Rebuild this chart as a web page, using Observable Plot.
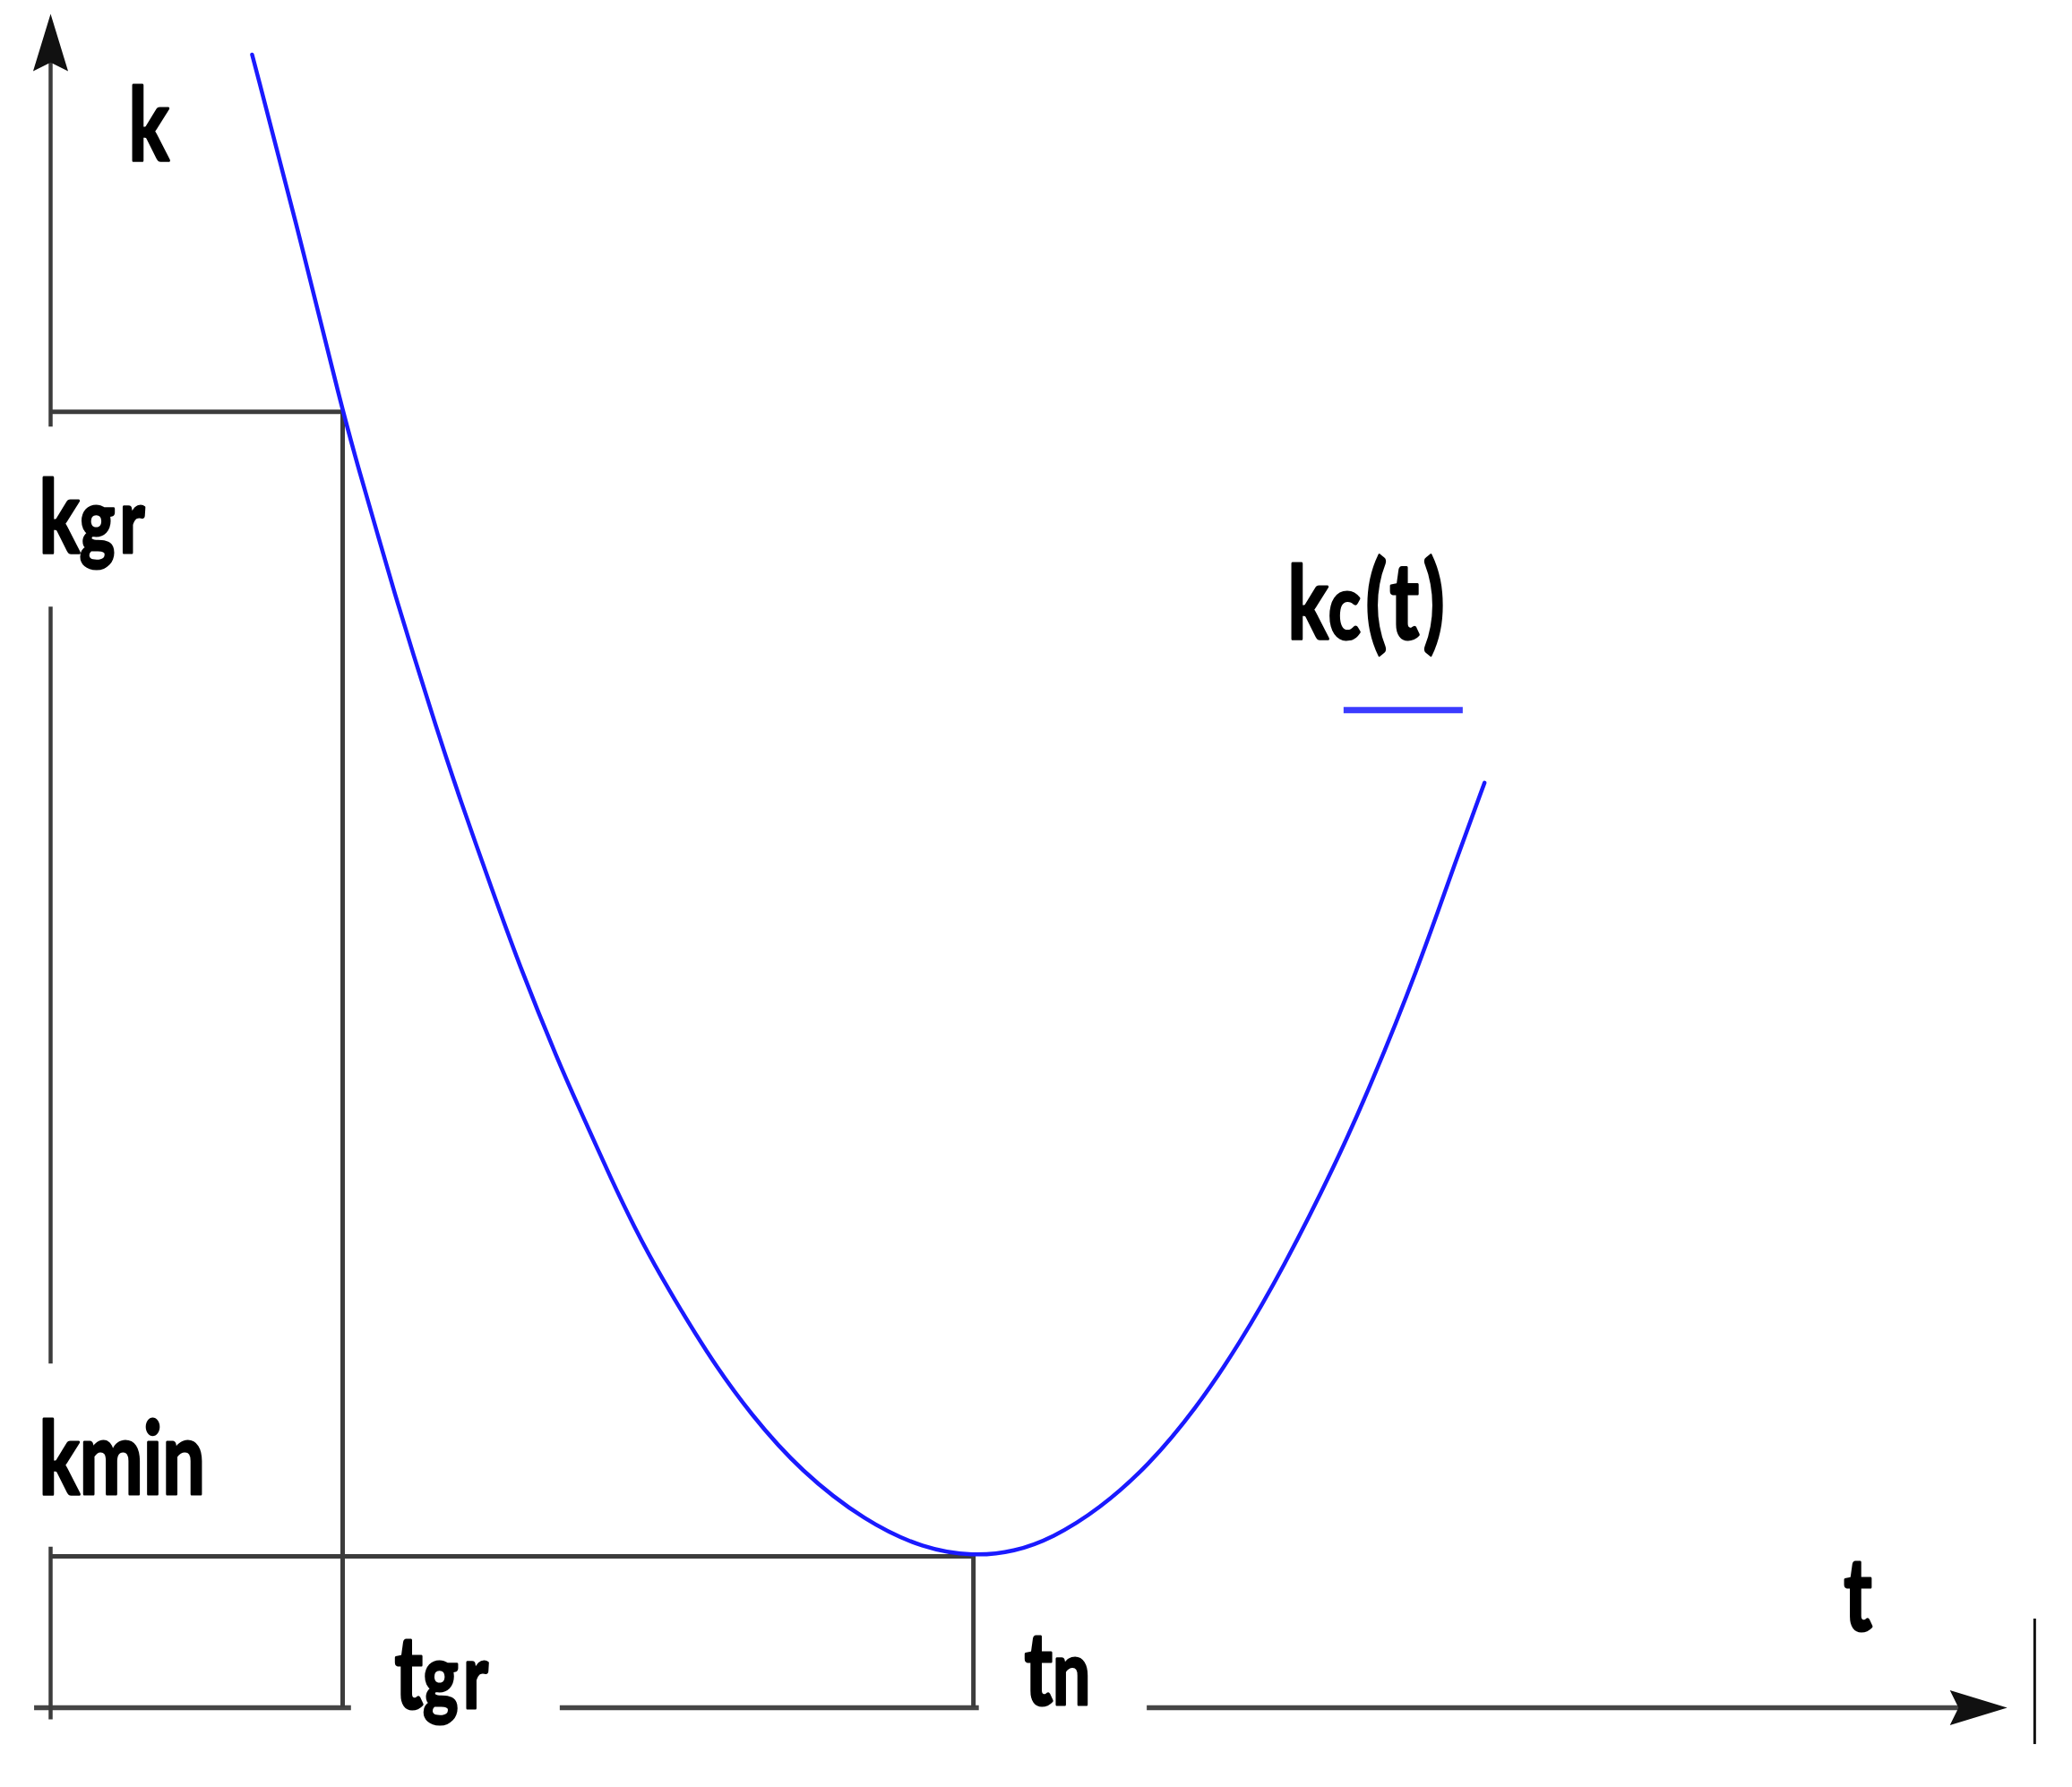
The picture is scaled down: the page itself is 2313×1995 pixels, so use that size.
<!DOCTYPE html>
<html><head><meta charset="utf-8">
<script src="https://cdn.jsdelivr.net/npm/d3@7"></script>
<script src="https://cdn.jsdelivr.net/npm/@observablehq/plot@0.6"></script>
<style>html,body{margin:0;padding:0;background:#fff;} svg{display:block}</style>
</head><body><div id="chart"></div>
<script>
// Curve kc(t) (t in units of tgr, k in units of kmin)
const curveT = [0.69,0.84,1.00,1.06,1.12,1.18,1.24,1.32,1.40,1.52,1.60,1.74,1.82,1.92,2.00,2.08,2.25,2.40,2.57,2.79,2.99,3.16,3.30,3.43,3.59,3.76,3.92,4.07,4.22,4.40,4.52,4.68,4.82,4.91];
const curveK = [10.92,9.82,8.56,8.15,7.75,7.35,6.97,6.48,6.01,5.36,4.93,4.26,3.92,3.49,3.17,2.88,2.33,1.93,1.56,1.23,1.05,1.00,1.03,1.12,1.31,1.60,1.97,2.40,2.90,3.59,4.11,4.87,5.64,6.11];

// Reference levels
const tGr = 1.0, tN = 3.16, kGr = 8.56, kMin = 1.0;

// Axis pieces (gaps where labels sit)
const tAxisFrom = [-0.055, 1.745, 3.755];
const tAxisTo   = [1.03, 3.18, 6.62];
const kAxisFrom = [8.46, 2.27, -0.08];
const kAxisTo   = [10.9, 7.27, 1.06];
const tArrowTip = 6.70, kArrowTip = 11.19;

// Right-hand marker
const tMarker = 6.794, kMarkerFrom = -0.243, kMarkerTo = 0.586;

// Legend swatch for kc(t)
const legendFrom = 4.429, legendTo = 4.837, legendK = 6.59;

// Labels
const labelText = ["k", "kgr", "kmin", "tgr", "tn", "t", "kc(t)"];
const labelBase = ["k", "k", "kmin", "t", "t", "t", "k"];
const labelSub  = ["", "gr", "", "gr", "n", "", "c"];
const labelTail = ["", "", "", "", "", "", "(t)"];
const labelT = [0.267, -0.04, -0.04, 1.178, 3.334, 6.14, 4.236];
const labelK = [10.22, 7.63, 1.414, 0.0, 0.02, 0.51, 7.06];

const curve = curveT.map((t, i) => ({t, k: curveK[i]}));
const labels = labelText.map((s, i) => ({s, t: labelT[i], k: labelK[i]}));
const tSegs = tAxisFrom.map((a, i) => ({a, b: tAxisTo[i]}));
const kSegs = kAxisFrom.map((a, i) => ({a, b: kAxisTo[i]}));

const arrowSymbol = {
  draw(ctx, size) {
    const s = Math.sqrt(size);
    const L = s * 1.9, W = s * 0.58;
    ctx.moveTo(0, 0);
    ctx.lineTo(W, L);
    ctx.lineTo(0, L * 0.85);
    ctx.lineTo(-W, L);
    ctx.closePath();
  }
};

const gray = "#3c3c3c";
const chart = Plot.plot({
  width: 2313,
  height: 1995,
  margin: 0,
  style: {background: "white", overflow: "visible"},
  x: {domain: [0, 7], range: [56, 56 + 7 * 326], axis: null},
  y: {domain: [0, 12], range: [1906, 1906 - 12 * 169], axis: null},
  marks: [
    // axes
    Plot.ruleY(tSegs, {y: 0, x1: "a", x2: "b", stroke: "#454545", strokeWidth: 5.5}),
    Plot.ruleX(kSegs, {x: 0, y1: "a", y2: "b", stroke: gray, strokeWidth: 4.5}),
    Plot.dot([{t: 0, k: kArrowTip}], {x: "t", y: "k", symbol: arrowSymbol, r: 19, fill: "#111", stroke: "none"}),
    Plot.dot([{t: tArrowTip, k: 0}], {x: "t", y: "k", symbol: arrowSymbol, r: 19, rotate: 90, fill: "#111", stroke: "none"}),
    // reference lines
    Plot.ruleY([kGr], {x1: 0, x2: tGr, stroke: gray, strokeWidth: 5}),
    Plot.ruleX([tGr], {y1: 0, y2: kGr, stroke: gray, strokeWidth: 5}),
    Plot.ruleY([kMin], {x1: 0, x2: tN, stroke: gray, strokeWidth: 5}),
    Plot.ruleX([tN], {y1: 0, y2: kMin, stroke: gray, strokeWidth: 5}),
    Plot.ruleX([tMarker], {y1: kMarkerFrom, y2: kMarkerTo, stroke: "#111", strokeWidth: 3}),
    // curve
    Plot.line(curve, {x: "t", y: "k", stroke: "#1a1aff", strokeWidth: 4.5, curve: "basis"}),
    // legend swatch
    Plot.ruleY([legendK], {x1: legendFrom, x2: legendTo, stroke: "#3b3bff", strokeWidth: 7}),
    // labels
    Plot.text(labels, {x: "t", y: "k", text: "s", textAnchor: "start", lineAnchor: "bottom",
      fontSize: 113, fontWeight: "bold", fontFamily: "Lato, 'Open Sans', sans-serif",
      fill: "black", stroke: "black", strokeWidth: 3})
  ]
});

// compose subscripts and condense labels like the original lettering
const parts = new Map(labelText.map((s, i) => [s, [labelBase[i], labelSub[i], labelTail[i]]]));
const ns = "http://www.w3.org/2000/svg";
chart.querySelectorAll('g[aria-label="text"] text').forEach(el => {
  const p = parts.get(el.textContent);
  if (!p) return;
  el.textContent = "";
  const sizes = [113, 100, 118];
  const spacing = [0, 7, 6];
  p.forEach((str, j) => {
    if (!str) return;
    const ts = document.createElementNS(ns, "tspan");
    ts.setAttribute("font-size", sizes[j]);
    if (spacing[j]) ts.setAttribute("letter-spacing", spacing[j]);
    ts.textContent = str;
    el.appendChild(ts);
  });
  const tr = el.getAttribute("transform");
  if (tr) {
    el.setAttribute("transform", tr + " scale(0.75,1)");
  } else {
    const x = el.getAttribute("x") || 0, y = el.getAttribute("y") || 0;
    el.removeAttribute("x"); el.removeAttribute("y");
    el.setAttribute("transform", `translate(${x},${y}) scale(0.75,1)`);
  }
});

document.getElementById("chart").appendChild(chart);
</script>
</body></html>
